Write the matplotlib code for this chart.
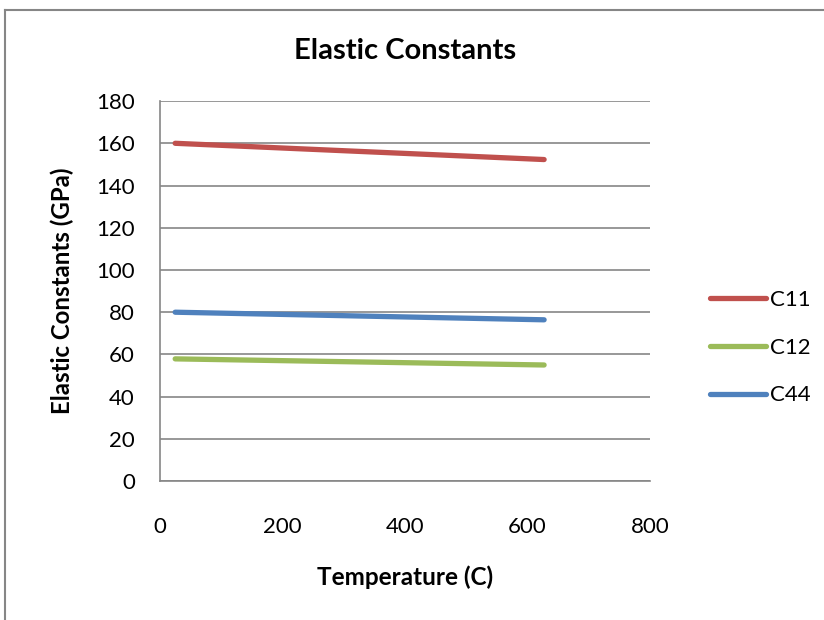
import matplotlib.pyplot as plt
from matplotlib.lines import Line2D

plt.rcParams['font.family'] = ['Lato', 'DejaVu Sans']

temperature = [25, 627]
c11 = [160.0, 152.3]
c12 = [57.9, 55.0]
c44 = [80.0, 76.4]

fig = plt.figure(figsize=(8.24, 6.2), dpi=100)
ax = fig.add_axes([0.194, 0.224, 0.595, 0.613])

ax.plot(temperature, c11, color='#C0504D', lw=3.8, solid_capstyle='round', label='C11')
ax.plot(temperature, c12, color='#9BBB59', lw=3.8, solid_capstyle='round', label='C12')
ax.plot(temperature, c44, color='#4F81BD', lw=3.8, solid_capstyle='round', label='C44')

ax.set_xlim(0, 800)
ax.set_ylim(0, 180)
ax.set_xticks(range(0, 801, 200))
ax.set_yticks(range(0, 181, 20))
ax.tick_params(length=0, labelsize=16)
ax.tick_params(axis='y', pad=18)
ax.tick_params(axis='x', pad=26)
ax.grid(axis='y', color='#868686', lw=1.2)
ax.set_axisbelow(True)
for s in ['top', 'right']:
    ax.spines[s].set_visible(False)
for s in ['left', 'bottom']:
    ax.spines[s].set_color('#868686')
    ax.spines[s].set_linewidth(1.2)

ax.set_title('Elastic Constants', fontsize=21, fontweight='bold', pad=30)
ax.set_xlabel('Temperature (C)', fontsize=17.5, fontweight='bold', labelpad=20)
ax.set_ylabel('Elastic Constants (GPa)', fontsize=17.3, fontweight='bold', labelpad=16)

ax.legend(loc='center left', bbox_to_anchor=(1.122, 0.351), frameon=False,
          fontsize=16, handlelength=2.5, handletextpad=0.2, labelspacing=1.25,
          borderpad=0, borderaxespad=0)

# chart border (only top and left edges are in view)
fig.lines.append(Line2D([5 / 824, 5 / 824], [0, 1 - 10 / 620], transform=fig.transFigure,
                        color='#868686', lw=1.5))
fig.lines.append(Line2D([5 / 824, 1], [1 - 10 / 620, 1 - 10 / 620], transform=fig.transFigure,
                        color='#868686', lw=1.5))

fig.savefig('out.png', dpi=100)
